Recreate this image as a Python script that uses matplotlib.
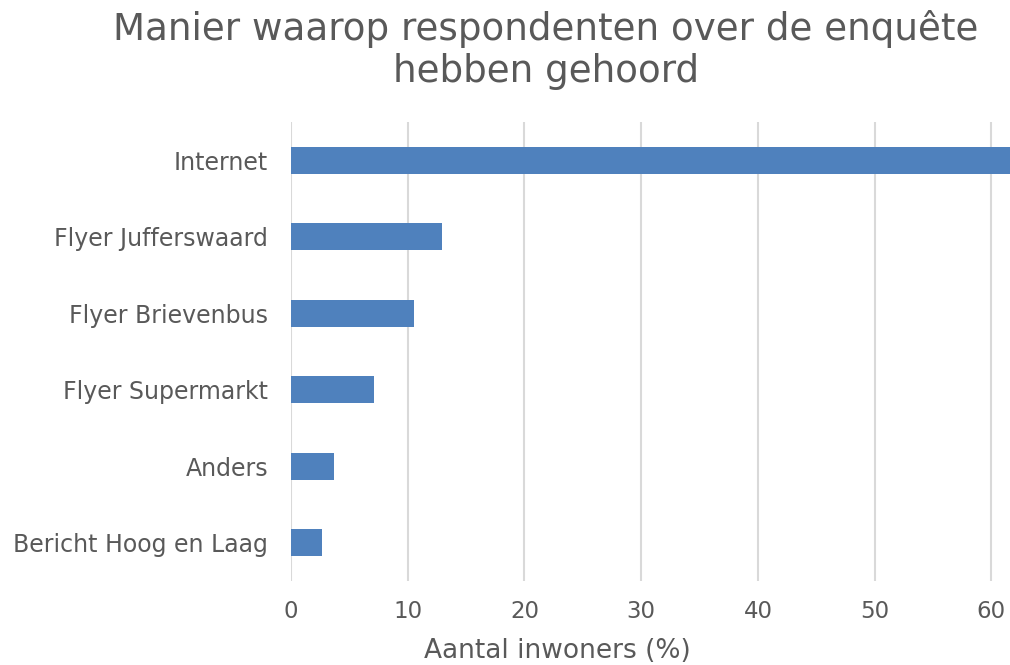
import matplotlib
matplotlib.use("Agg")
import matplotlib.pyplot as plt

categories = ["Internet", "Flyer Jufferswaard", "Flyer Brievenbus",
              "Flyer Supermarkt", "Anders", "Bericht Hoog en Laag"]
values = [61.6, 12.9, 10.5, 7.1, 3.7, 2.65]
xticks = [0, 10, 20, 30, 40, 50, 60]
title = "Manier waarop respondenten over de enquête\nhebben gehoord"
xlabel = "Aantal inwoners (%)"

text_color = "#595959"
bar_color = "#4F81BD"
grid_color = "#D9D9D9"

plt.rcParams['font.family'] = ['DejaVu Sans']

fig = plt.figure(figsize=(10.10, 6.65), dpi=100)
ax = fig.add_axes([291/1010, 1 - 581/665, 1 - 291/1010, (581 - 122)/665])

ypos = list(range(len(categories)))[::-1]
ax.barh(ypos, values, height=0.35, color=bar_color, zorder=3)
ax.set_xlim(0, 61.6)
ax.set_ylim(-0.5, len(categories) - 0.5)
ax.set_yticks(ypos)
ax.set_yticklabels(categories, fontsize=17, color=text_color)
ax.set_xticks(xticks)
ax.set_xticklabels([str(t) for t in xticks], fontsize=16.5, color=text_color)
ax.tick_params(axis='both', length=0)
ax.tick_params(axis='y', pad=16.5)
ax.tick_params(axis='x', pad=14)
ax.grid(axis='x', color=grid_color, linewidth=1.5, zorder=0)
for s in ax.spines.values():
    s.set_visible(False)

fig.text(546/1010, 1 - 50/665, title, ha='center', va='center',
         fontsize=26.8, color=text_color, linespacing=1.2)
fig.text(557/1010, 1 - 651/665, xlabel, ha='center', va='center',
         fontsize=19, color=text_color)

fig.savefig("out.png", dpi=100)
